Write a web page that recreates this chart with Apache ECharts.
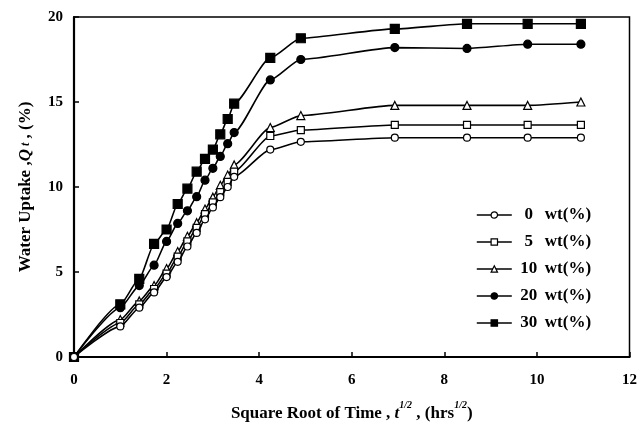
<!DOCTYPE html>
<html>
<head>
<meta charset="utf-8">
<script src="https://cdn.jsdelivr.net/npm/echarts@6/dist/echarts.min.js"></script>
<style>
html,body{margin:0;padding:0;background:#fff;}
#c{width:640px;height:431px;}
</style>
</head>
<body>
<div id="c"></div>
<script>
// square root of time (hrs^1/2)
const xVals = [0, 1, 1.41, 1.73, 2, 2.24, 2.45, 2.65, 2.83, 3, 3.16, 3.32, 3.46, 4.24, 4.9, 6.93, 8.49, 9.8, 10.95];
const seriesNames = ['0', '5', '10', '20', '30'];
const wt0  = [0, 1.8, 2.9, 3.8, 4.7, 5.6, 6.5, 7.3, 8.1, 8.8, 9.4, 10.0, 10.6, 12.2, 12.66, 12.9, 12.9, 12.9, 12.9];
const wt5  = [0, 2.0, 3.1, 4.0, 4.9, 5.9, 6.8, 7.6, 8.4, 9.1, 9.7, 10.3, 10.9, 13.0, 13.35, 13.65, 13.65, 13.65, 13.65];
const wt10 = [0, 2.2, 3.3, 4.2, 5.2, 6.2, 7.1, 7.9, 8.7, 9.4, 10.1, 10.7, 11.3, 13.5, 14.2, 14.8, 14.8, 14.8, 15.0];
const wt20 = [0, 2.9, 4.2, 5.4, 6.8, 7.86, 8.6, 9.43, 10.4, 11.1, 11.8, 12.55, 13.2, 16.3, 17.5, 18.2, 18.15, 18.4, 18.4];
const wt30 = [0, 3.1, 4.6, 6.65, 7.5, 9.0, 9.9, 10.9, 11.65, 12.2, 13.1, 14.0, 14.9, 17.6, 18.75, 19.3, 19.6, 19.6, 19.6];
const xTicks = { min: 0, max: 12, interval: 2 };
const yTicks = { min: 0, max: 20, interval: 5 };

const FONT = '"Liberation Serif", "Times New Roman", serif';
const allData = [wt0, wt5, wt10, wt20, wt30];
const symbols = ['circle', 'rect', 'triangle', 'circle', 'rect'];
const fills = ['#fff', '#fff', '#fff', '#000', '#000'];
const sizes = [7, 7, 8, 8, 9];

const series = seriesNames.map((n, i) => ({
  name: n,
  type: 'line',
  data: xVals.map((x, j) => [x, allData[i][j]]),
  symbol: symbols[i],
  symbolSize: sizes[i],
  smooth: 0.2,
  smoothMonotone: 'x',
  showAllSymbol: true,
  lineStyle: { color: '#000', width: 1.6 },
  itemStyle: { color: fills[i], borderColor: '#000', borderWidth: 1.2 },
  emphasis: { disabled: true },
  z: 10 - i
}));

const chart = echarts.init(document.getElementById('c'), null, { renderer: 'canvas' });
chart.setOption({
  animation: false,
  backgroundColor: '#fff',
  grid: { left: 74, right: 8, top: 17, bottom: 74, show: true, borderColor: '#000', borderWidth: 1.5, backgroundColor: 'transparent' },
  legend: {
    orient: 'vertical',
    left: 471,
    top: 201,
    itemWidth: 35,
    itemHeight: 8,
    itemGap: 9,
    itemStyle: { borderColor: '#000', borderWidth: 1.2 },
    lineStyle: { color: '#000', width: 1.6 },
    data: seriesNames,
    formatter: n => '{n|' + n + '}{w|wt(%)}',
    textStyle: {
      fontFamily: FONT, fontWeight: 'bold', fontSize: 17, color: '#000', lineHeight: 18,
      rich: {
        n: { fontFamily: FONT, fontWeight: 'bold', fontSize: 17, color: '#000', width: 24, align: 'center' },
        w: { fontFamily: FONT, fontWeight: 'bold', fontSize: 17, color: '#000', padding: [0, 0, 0, 4] }
      }
    }
  },
  xAxis: {
    type: 'value',
    min: xTicks.min, max: xTicks.max, interval: xTicks.interval,
    axisLine: { show: true, lineStyle: { color: '#000', width: 2.2 } },
    axisTick: { show: true, inside: true, length: 5, lineStyle: { color: '#000', width: 1.5 } },
    splitLine: { show: false },
    axisLabel: { color: '#000', fontFamily: FONT, fontWeight: 'bold', fontSize: 15, margin: 16 },
    name: '{b|Square Root of Time , }{i|t}{s|1/2}{b| , (hrs}{s|1/2}{b|)}',
    nameLocation: 'middle',
    nameGap: 43,
    nameTextStyle: {
      rich: {
        b: { fontFamily: FONT, fontWeight: 'bold', fontSize: 17, color: '#000', lineHeight: 22, verticalAlign: 'bottom' },
        i: { fontFamily: FONT, fontWeight: 'bold', fontStyle: 'italic', fontSize: 17, color: '#000', lineHeight: 22, verticalAlign: 'bottom' },
        s: { fontFamily: FONT, fontWeight: 'bold', fontStyle: 'italic', fontSize: 10, color: '#000', lineHeight: 10, verticalAlign: 'top' }
      }
    }
  },
  yAxis: {
    type: 'value',
    min: yTicks.min, max: yTicks.max, interval: yTicks.interval,
    axisLine: { show: true, lineStyle: { color: '#000', width: 2.2 } },
    axisTick: { show: true, inside: true, length: 5, lineStyle: { color: '#000', width: 1.5 } },
    splitLine: { show: false },
    axisLabel: { color: '#000', fontFamily: FONT, fontWeight: 'bold', fontSize: 15, margin: 11 },
    name: '{b|Water Uptake ,}{q|Q}{t| t}{b| , (%)}',
    nameLocation: 'middle',
    nameGap: 40,
    nameTextStyle: {
      rich: {
        b: { fontFamily: FONT, fontWeight: 'bold', fontSize: 17, color: '#000' },
        q: { fontFamily: FONT, fontWeight: 'bold', fontStyle: 'italic', fontSize: 17, color: '#000' },
        t: { fontFamily: FONT, fontWeight: 'bold', fontStyle: 'italic', fontSize: 12, color: '#000' }
      }
    }
  },
  series: series
});
</script>
</body>
</html>
